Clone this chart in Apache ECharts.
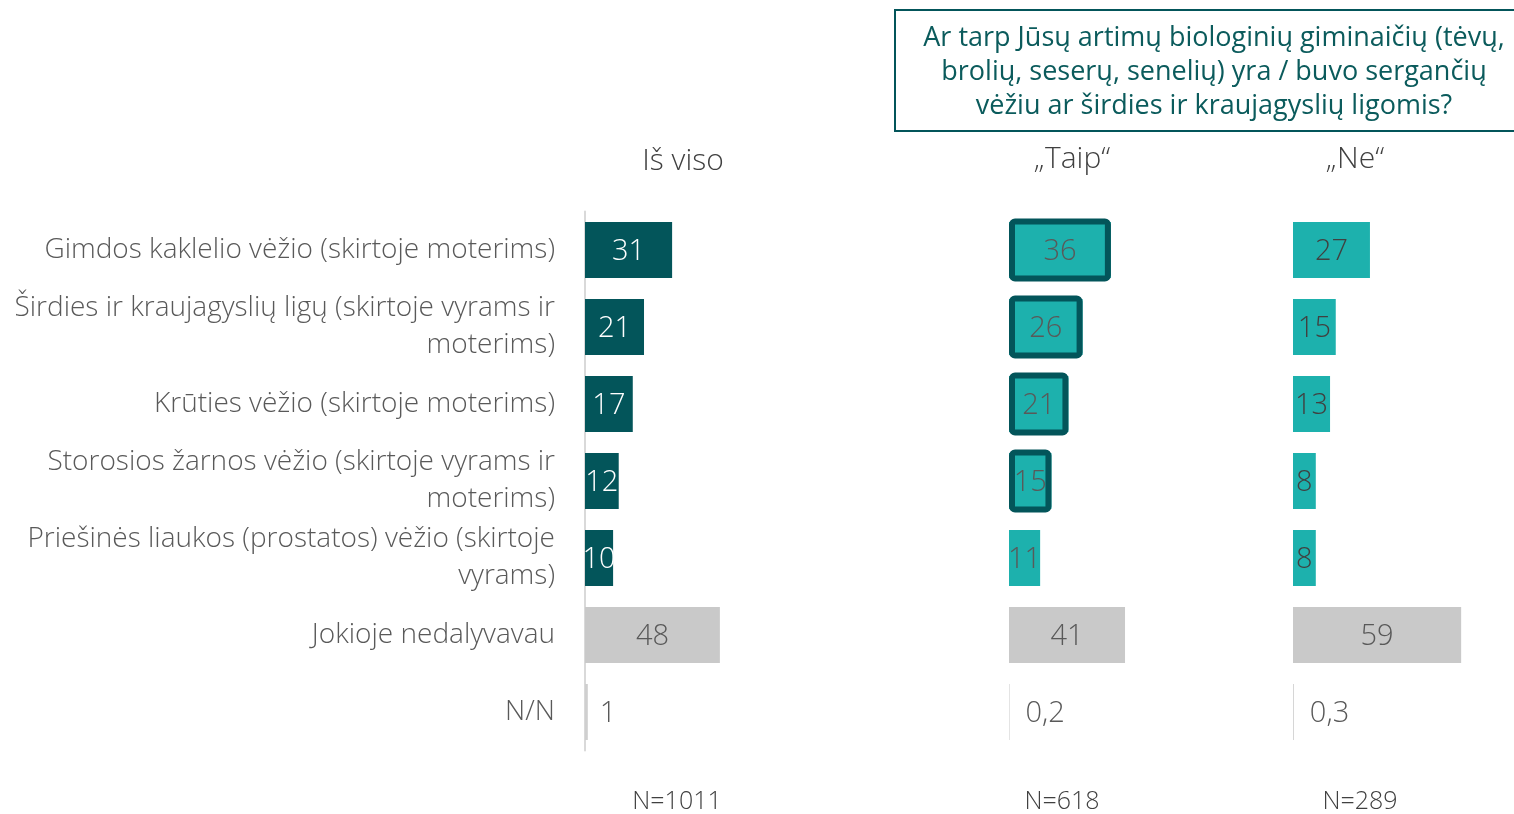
<!DOCTYPE html>
<html><head><meta charset="utf-8">
<script src="https://cdn.jsdelivr.net/npm/echarts@6/dist/echarts.min.js"></script>
<style>html,body{margin:0;padding:0;background:#fff}#c{width:1514px;height:814px}</style>
</head><body><div id="c"></div>
<script>
const categories = [
  "Gimdos kaklelio vėžio (skirtoje moterims)",
  "Širdies ir kraujagyslių ligų (skirtoje vyrams ir\nmoterims)",
  "Krūties vėžio (skirtoje moterims)",
  "Storosios žarnos vėžio (skirtoje vyrams ir\nmoterims)",
  "Priešinės liaukos (prostatos) vėžio (skirtoje\nvyrams)",
  "Jokioje nedalyvavau",
  "N/N"
];
const totalValues = [31, 21, 17, 12, 10, 48, 1];
const taipValues = [36, 26, 21, 15, 11, 41, 0.2];
const neValues = [27, 15, 13, 8, 8, 59, 0.3];
const taipHighlighted = [true, true, true, true, false, false, false];
const columnHeaders = ["Iš viso", "„Taip“", "„Ne“"];
const sampleSizes = ["N=1011", "N=618", "N=289"];
const questionText = "Ar tarp Jūsų artimų biologinių giminaičių (tėvų,\nbrolių, seserų, senelių) yra / buvo sergančių\nvėžiu ar širdies ir kraujagyslių ligomis?";

const FONT = "'Open Sans'";
const DARK = "#03555a", TEAL = "#1db1ad", GRAY = "#c9c9c9", NNGRAY = "#cfcfcf";
const fmt = p => String(p.value).replace('.', ',');

function barData(values, mainColor, mainLabel, nnDist) {
  return values.map((v, i) => {
    const isGray = i === 5, isNN = i === 6;
    return {
      value: v,
      itemStyle: { color: isNN ? NNGRAY : (isGray ? GRAY : mainColor) },
      label: {
        show: true, formatter: fmt, fontFamily: FONT, fontWeight: 300, fontSize: 29,
        color: isGray || isNN ? "#595959" : mainLabel,
        position: isNN ? "right" : "inside",
        distance: isNN ? nnDist : 5,
        offset: [0, 2]
      }
    };
  });
}

const gTop = 211.5, gHeight = 539;
const chart = echarts.init(document.getElementById('c'));
const yBase = { type: 'category', data: categories, inverse: true, axisTick: { show: false } };
chart.setOption({
  animation: false,
  grid: [
    { left: 585, top: gTop, width: 281, height: gHeight },
    { left: 1009, top: gTop, width: 283, height: gHeight },
    { left: 1293, top: gTop, width: 199.5, height: gHeight },
    { left: 1009, top: gTop, width: 283, height: gHeight }
  ],
  xAxis: [
    { gridIndex: 0, type: 'value', min: 0, max: 100, show: false },
    { gridIndex: 1, type: 'value', min: 0, max: 100, show: false },
    { gridIndex: 2, type: 'value', min: 0, max: 70, show: false },
    { gridIndex: 3, type: 'value', min: 0, max: 100, show: false }
  ],
  yAxis: [
    Object.assign({}, yBase, { gridIndex: 0,
      axisLine: { show: true, lineStyle: { color: "#d9d9d9", width: 2 } },
      axisLabel: { fontFamily: FONT, fontWeight: 300, fontSize: 28, color: "#595959", margin: 30, lineHeight: 37, align: 'right' } }),
    Object.assign({}, yBase, { gridIndex: 1, axisLine: { show: false }, axisLabel: { show: false } }),
    Object.assign({}, yBase, { gridIndex: 2, axisLine: { show: false }, axisLabel: { show: false } }),
    Object.assign({}, yBase, { gridIndex: 3, axisLine: { show: false }, axisLabel: { show: false } })
  ],
  series: [
    { type: 'bar', xAxisIndex: 0, yAxisIndex: 0, barWidth: 56, data: barData(totalValues, DARK, "#ffffff", 12) },
    { type: 'bar', xAxisIndex: 1, yAxisIndex: 1, barWidth: 56, data: barData(taipValues, TEAL, "#595959", 16) },
    { type: 'bar', xAxisIndex: 2, yAxisIndex: 2, barWidth: 56, data: barData(neValues, TEAL, "#404040", 16) },
    { type: 'bar', xAxisIndex: 3, yAxisIndex: 3, barWidth: 63, z: 3,
      data: taipValues.map((v, i) => taipHighlighted[i] ? v : '-'),
      itemStyle: { color: 'rgba(0,0,0,0)', borderColor: DARK, borderWidth: 6, borderRadius: 3 } }
  ],
  graphic: [
    { type: 'rect', shape: { x: 895, y: 10, width: 630, height: 121 }, style: { fill: 'none', stroke: DARK, lineWidth: 2 } },
    { type: 'text', x: 1214, y: 72, style: { text: questionText, font: `400 27px ${FONT}`, fill: "#0b5b5c", align: 'center', verticalAlign: 'middle', lineHeight: 34 } },
    { type: 'text', x: 683, y: 161, style: { text: columnHeaders[0], font: `300 30px ${FONT}`, fill: "#404040", align: 'center', verticalAlign: 'middle' } },
    { type: 'text', x: 1072, y: 159, style: { text: columnHeaders[1], font: `300 30px ${FONT}`, fill: "#404040", align: 'center', verticalAlign: 'middle' } },
    { type: 'text', x: 1355, y: 159, style: { text: columnHeaders[2], font: `300 30px ${FONT}`, fill: "#404040", align: 'center', verticalAlign: 'middle' } },
    { type: 'text', x: 677, y: 802, style: { text: sampleSizes[0], font: `300 25px ${FONT}`, fill: "#404040", align: 'center', verticalAlign: 'middle' } },
    { type: 'text', x: 1062, y: 802, style: { text: sampleSizes[1], font: `300 25px ${FONT}`, fill: "#404040", align: 'center', verticalAlign: 'middle' } },
    { type: 'text', x: 1360, y: 802, style: { text: sampleSizes[2], font: `300 25px ${FONT}`, fill: "#404040", align: 'center', verticalAlign: 'middle' } }
  ]
});
</script></body></html>
